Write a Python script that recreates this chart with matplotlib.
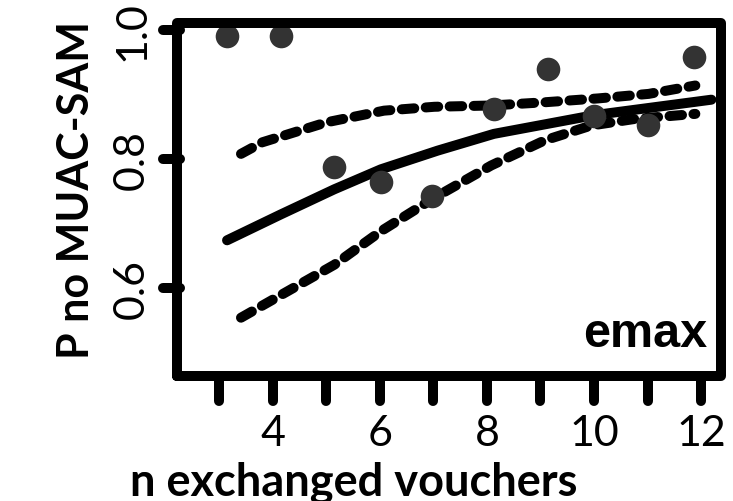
import matplotlib
matplotlib.use("Agg")
import matplotlib.pyplot as plt

plt.rcParams['font.family'] = ['Lato', 'DejaVu Sans']

# observed proportion without MUAC-SAM per number of exchanged vouchers
vouchers = [3.15, 4.15, 5.15, 6.02, 6.98, 8.13, 9.14, 10.0, 11.0, 11.87]
p_no_sam = [0.990, 0.990, 0.787, 0.764, 0.743, 0.878, 0.939, 0.866, 0.852, 0.958]

# emax fit and its interval
fit_x = [3.15, 4.15, 5.15, 6.02, 7.08, 8.13, 10.0, 12.19]
fit_mean = [0.674, 0.714, 0.753, 0.784, 0.813, 0.839, 0.868, 0.892]
upper_x = [3.41, 3.81, 5.01, 6.08, 7.02, 8.08, 9.08, 10.08, 11.02, 11.89]
upper = [0.808, 0.826, 0.857, 0.875, 0.881, 0.883, 0.888, 0.894, 0.901, 0.914]
lower_x = [3.41, 4.28, 5.15, 6.02, 7.02, 8.08, 9.08, 9.95, 10.75, 11.89]
lower = [0.554, 0.595, 0.636, 0.688, 0.740, 0.790, 0.829, 0.852, 0.862, 0.870]

xtick_pos = list(range(3, 13))
xtick_lab = [4, 6, 8, 10, 12]
ytick_pos = [0.6, 0.8, 1.0]

LW = 7.2

fig = plt.figure(figsize=(7.33, 5.02), dpi=100)
ax = fig.add_axes([0.2415, 0.249, 0.7422, 0.7032])

ax.plot(fit_x, fit_mean, color='k', lw=LW, solid_capstyle='round', zorder=2)
for xs, ys in [(upper_x, upper), (lower_x, lower)]:
    ax.plot(xs, ys, color='k', lw=LW, dashes=(1.25, 1.15),
            dash_capstyle='round', zorder=2)
ax.plot(vouchers, p_no_sam, 'o', color='#333333', ms=17, mew=0,
        zorder=3, clip_on=False)

ax.set_xlim(2.216, 12.37)
ax.set_ylim(0.4636, 1.0109)

# R-style box with rounded joins
for s in ax.spines.values():
    s.set_visible(False)
ax.plot([0, 1, 1, 0, 0], [0, 0, 1, 1, 0], transform=ax.transAxes, color='k',
        lw=LW, solid_joinstyle='round', solid_capstyle='round',
        clip_on=False, zorder=4)

# thick round tick marks
ax.vlines(xtick_pos, -0.071, 0, transform=ax.get_xaxis_transform(),
          colors='k', lw=LW, capstyle='round', clip_on=False, zorder=4)
ax.hlines(ytick_pos, -0.026, 0.0055, transform=ax.get_yaxis_transform(),
          colors='k', lw=LW, capstyle='round', clip_on=False, zorder=4)

ax.set_xticks(xtick_lab)
ax.set_xticklabels([str(v) for v in xtick_lab], fontsize=31)
ax.set_yticks(ytick_pos)
ax.set_yticklabels(['%.1f' % v for v in ytick_pos], fontsize=31,
                   rotation=90, va='center')
ax.tick_params(axis='x', length=0, pad=27)
ax.tick_params(axis='y', length=0, pad=18.7)

ax.set_xlabel('n exchanged vouchers', fontsize=32.5, fontweight='bold')
ax.xaxis.set_label_coords(0.325, -0.337)
ax.xaxis.label.set_va('baseline')

ax.set_ylabel('P no MUAC-SAM', fontsize=31, fontweight='bold')
ax.yaxis.set_label_coords(-0.162, 0.53)
ax.yaxis.label.set_va('baseline')

ax.text(0.974, 0.085, 'emax', transform=ax.transAxes, ha='right',
        va='baseline', family='Liberation Sans', fontweight='bold',
        fontsize=35)

fig.savefig('out.png', dpi=100)
